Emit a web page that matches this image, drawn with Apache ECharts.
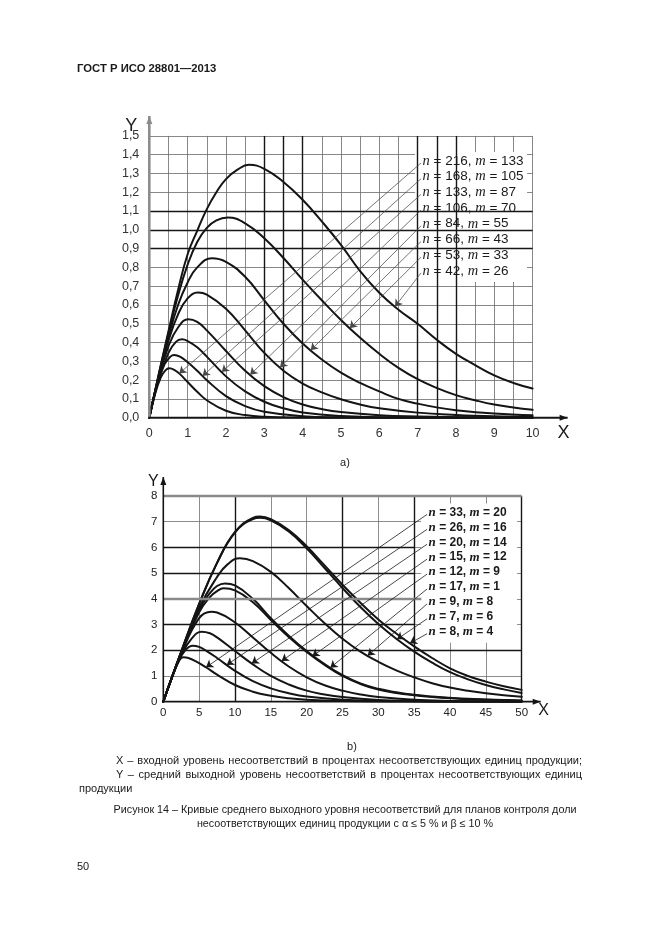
<!DOCTYPE html>
<html><head><meta charset="utf-8"><title>ГОСТ Р ИСО 28801—2013, Рисунок 14</title>
<script src="https://cdn.jsdelivr.net/npm/echarts@6/dist/echarts.min.js"></script>
<style>
html,body{margin:0;padding:0;background:#fff;}
#wrap{position:relative;width:661px;height:936px;overflow:hidden;font-family:'Liberation Sans',Arial,sans-serif;color:#1a1a1a;}
#c{position:absolute;left:0;top:0;width:661px;height:936px;}
.t{position:absolute;white-space:nowrap;font-size:11px;line-height:14px;height:14px;}
.cap{font-size:10.75px;}
</style></head><body><div id="wrap"><div id="c"></div>
<div class="t" style="left:77px;top:61px;font-weight:bold;font-size:11.3px;">ГОСТ Р ИСО 28801—2013</div>
<div class="t" style="left:295px;width:100px;text-align:center;top:455px;">a)</div>
<div class="t" style="left:302px;width:100px;text-align:center;top:739px;">b)</div>
<div class="t" id="l1" style="left:116px;top:753px;">X – входной уровень несоответствий в процентах несоответствующих единиц продукции;</div>
<div class="t" id="l2" style="left:116px;top:767px;">Y – средний выходной уровень несоответствий в процентах несоответствующих единиц</div>
<div class="t" style="left:79px;top:781px;">продукции</div>
<div class="t cap" style="left:0;width:690px;text-align:center;top:802px;">Рисунок 14 – Кривые среднего выходного уровня несоответствий для планов контроля доли</div>
<div class="t cap" style="left:0;width:690px;text-align:center;top:816px;">несоответствующих единиц продукции с α ≤ 5 % и β ≤ 10 %</div>
<div class="t" style="left:77px;top:859px;">50</div>
</div>
<script>
// ---------- Chart a) data ----------
const aPlanN = [216, 168, 133, 106, 84, 66, 53, 42];
const aPlanM = [133, 105, 87, 70, 55, 43, 33, 26];
const aC216 = [[0,0],[0.15,0.125],[0.3,0.215],[0.42,0.252],[0.52,0.263],[0.65,0.255],[0.8,0.232],[1,0.19],[1.25,0.138],[1.5,0.093],[2,0.037],[2.5,0.014],[3,0.005],[4,0.001],[5,0],[10,0]];
const aC168 = [[0,0],[0.2,0.175],[0.4,0.285],[0.55,0.325],[0.65,0.334],[0.8,0.325],[1,0.295],[1.25,0.25],[1.5,0.2],[2,0.115],[2.5,0.062],[3,0.032],[4,0.008],[5,0.002],[6,0],[10,0]];
const aC133 = [[0,0],[0.25,0.205],[0.5,0.345],[0.7,0.405],[0.85,0.417],[1,0.408],[1.25,0.375],[1.5,0.325],[2,0.22],[2.5,0.14],[3,0.085],[3.5,0.05],[4,0.028],[5,0.009],[6,0.003],[7,0.001],[8,0],[10,0]];
const aC106 = [[0,0],[0.25,0.215],[0.5,0.38],[0.75,0.48],[1.02,0.524],[1.25,0.51],[1.5,0.465],[2,0.355],[2.5,0.25],[3,0.168],[3.5,0.11],[4,0.07],[4.5,0.046],[5,0.03],[6,0.013],[7,0.006],[8,0.003],[9,0.002],[10,0.001]];
const aC84 = [[0,0],[0.25,0.222],[0.5,0.41],[0.75,0.55],[1,0.635],[1.27,0.666],[1.5,0.655],[2,0.58],[2.5,0.465],[3,0.345],[3.5,0.25],[4,0.182],[4.5,0.135],[5,0.098],[5.5,0.07],[6,0.05],[7,0.027],[8,0.015],[9,0.008],[10,0.005]];
const aC66 = [[0,0],[0.25,0.228],[0.5,0.43],[0.75,0.6],[1,0.72],[1.25,0.8],[1.63,0.849],[2,0.83],[2.5,0.75],[3,0.625],[3.5,0.5],[4,0.395],[4.5,0.31],[5,0.24],[5.5,0.185],[6,0.14],[6.5,0.1],[7,0.075],[7.5,0.055],[8,0.04],[9,0.022],[10,0.013]];
const aC53 = [[0,0],[0.25,0.232],[0.5,0.45],[0.75,0.65],[1,0.815],[1.25,0.935],[1.5,1.01],[1.75,1.05],[2.05,1.065],[2.5,1.035],[3,0.955],[3.5,0.85],[4,0.735],[4.5,0.625],[5,0.52],[5.5,0.425],[6,0.34],[6.5,0.265],[7,0.205],[7.5,0.158],[8,0.12],[8.5,0.093],[9,0.07],[9.5,0.054],[10,0.042]];
const aC42 = [[0,0],[0.25,0.235],[0.5,0.46],[0.75,0.68],[1,0.87],[1.25,0.995],[1.5,1.11],[1.75,1.2],[2,1.27],[2.3,1.32],[2.6,1.346],[3,1.325],[3.5,1.255],[4,1.16],[4.5,1.045],[5,0.92],[5.5,0.78],[6,0.665],[6.5,0.575],[7,0.5],[7.5,0.415],[8,0.34],[8.5,0.28],[9,0.225],[9.5,0.185],[10,0.155]];
const aCurves = [aC216, aC168, aC133, aC106, aC84, aC66, aC53, aC42];
const aArrowX = [0.78, 1.39, 1.89, 2.63, 3.41, 4.21, 5.23, 6.41];

// ---------- Chart b) data ----------
const bPlanN = [33, 26, 20, 15, 12, 17, 9, 7, 8];
const bPlanM = [20, 16, 14, 12, 9, 1, 8, 6, 4];
const bC33 = [[0,0],[1,0.78],[2,1.48],[2.8,1.725],[3.5,1.7],[4.5,1.58],[6,1.33],[7.5,1.05],[10,0.65],[12.5,0.39],[15,0.23],[17.5,0.13],[20,0.075],[25,0.025],[30,0.008],[35,0.003],[40,0.001],[50,0]];
const bC26 = [[0,0],[1,0.78],[2,1.5],[3,1.98],[4.1,2.18],[5,2.13],[6,1.98],[7.5,1.7],[10,1.2],[12.5,0.8],[15,0.52],[17.5,0.33],[20,0.2],[25,0.075],[30,0.028],[35,0.01],[40,0.004],[50,0]];
const bC20 = [[0,0],[1,0.78],[2.5,1.8],[4,2.47],[5.35,2.72],[6.5,2.66],[7.5,2.5],[10,1.97],[12.5,1.45],[15,1.0],[17.5,0.67],[20,0.43],[22.5,0.28],[25,0.18],[30,0.07],[35,0.028],[40,0.01],[45,0.004],[50,0.001]];
const bC15 = [[0,0],[2.5,1.85],[5,3.25],[6.7,3.5],[7.5,3.47],[10,3.08],[12.5,2.5],[15,1.9],[17.5,1.37],[20,0.95],[22.5,0.64],[25,0.43],[27.5,0.28],[30,0.18],[35,0.075],[40,0.03],[45,0.012],[50,0.005]];
const bC12 = [[0,0],[2.5,1.9],[5,3.48],[6.5,4.07],[7.5,4.3],[8.4,4.41],[10,4.33],[12.5,3.87],[15,3.18],[17.5,2.52],[20,1.93],[22.5,1.43],[25,1.0],[27.5,0.69],[30,0.47],[32.5,0.34],[35,0.25],[37.5,0.18],[40,0.13],[42.5,0.1],[45,0.075],[47.5,0.055],[50,0.04]];
const bC17 = [[0,0],[2.5,1.92],[5,3.58],[6.5,4.22],[7.5,4.5],[8.6,4.6],[10,4.52],[12.5,4.0],[15,3.25],[17.5,2.57],[20,1.97],[22.5,1.46],[25,1.03],[27.5,0.71],[30,0.5],[32.5,0.37],[35,0.27],[37.5,0.2],[40,0.15],[42.5,0.11],[45,0.085],[47.5,0.065],[50,0.05]];
const bC9 = [[0,0],[2.5,1.93],[5,3.65],[7.5,4.85],[9,5.35],[10.7,5.58],[12.5,5.47],[15,5.05],[17.5,4.42],[20,3.72],[22.5,3.05],[25,2.45],[27.5,1.95],[30,1.55],[32.5,1.22],[35,0.95],[37.5,0.72],[40,0.55],[42.5,0.43],[45,0.33],[47.5,0.25],[50,0.19]];
const bC7 = [[0,0],[2.5,1.95],[5,3.8],[7.5,5.4],[10,6.58],[12.5,7.1],[13.5,7.15],[15,7.05],[17.5,6.62],[20,5.97],[22.5,5.2],[25,4.42],[27.5,3.68],[30,3.02],[32.5,2.45],[35,1.95],[37.5,1.52],[40,1.15],[42.5,0.87],[45,0.65],[47.5,0.48],[50,0.34]];
const bC8 = [[0,0],[2.5,1.95],[5,3.8],[7.5,5.4],[10,6.6],[12.5,7.15],[13.5,7.2],[15,7.1],[17.5,6.68],[20,6.05],[22.5,5.3],[25,4.55],[27.5,3.85],[30,3.2],[32.5,2.65],[35,2.15],[37.5,1.7],[40,1.3],[42.5,1.0],[45,0.78],[47.5,0.6],[50,0.46]];
const bCurves = [bC33, bC26, bC20, bC15, bC12, bC17, bC9, bC7, bC8];
const bArrowX = [5.96, 8.85, 12.33, 16.5, 20.8, 23.3, 28.5, 32.6, 34.4];

// ---------- layout / annotation settings ----------
const FONT = "'Liberation Sans', Arial, sans-serif";
const aLegend = { x: 7.09, y0: 1.356, dy: 0.0836 };
const bLegend = { x: 36.8, y0: 7.284, dy: 0.58 };

function yAt(curve, x) {
  for (let k = 0; k < curve.length - 1; k++) {
    const [x0, y0] = curve[k], [x1, y1] = curve[k + 1];
    if (x >= x0 && x <= x1) return y0 + (y1 - y0) * (x - x0) / (x1 - x0);
  }
  return curve[curve.length - 1][1];
}

function curveSeries(g, data) {
  return { type: 'line', xAxisIndex: g, yAxisIndex: g, data: data, showSymbol: false, symbol: 'none',
    smooth: 0.45, silent: true, z: 3, emphasis: { disabled: true },
    lineStyle: { color: '#141414', width: 2, cap: 'round', join: 'round' } };
}
function markSeries(g, lines, color, width, z, arrow) {
  return { type: 'line', xAxisIndex: g, yAxisIndex: g, data: [], showSymbol: false, symbol: 'none', silent: true, z: z,
    lineStyle: { width: 0 },
    markLine: { silent: true, animation: false, symbol: arrow ? ['none', 'arrow'] : ['none', 'none'], symbolSize: arrow ? 7 : 0,
      label: { show: false }, emphasis: { disabled: true },
      lineStyle: { color: color, width: width, type: 'solid' },
      data: lines.map(l => [{ coord: l[0] }, { coord: l[1] }]) } };
}

// thick reference lines of the original grid
const aThick = [3, 3.5, 4, 7, 7.5, 8].map(v => [[v, 0], [v, 1.5]])
  .concat([0.9, 1.0, 1.1].map(v => [[0, v], [10, v]]));
const bThickDark = [10, 25, 35, 50].map(v => [[v, 0], [v, 8]])
  .concat([[[0, 2], [50, 2]], [[0, 3], [35, 3]], [[0, 5], [35, 5]], [[0, 6], [35, 6]]]);
const bThickGray = [[[0, 8], [50, 8]], [[0, 4], [36, 4]]];

const aLeaders = aCurves.map((c, i) => [[aLegend.x, aLegend.y0 - aLegend.dy * i], [aArrowX[i], yAt(c, aArrowX[i])]]);
const bLeaders = bCurves.map((c, i) => [[bLegend.x, bLegend.y0 - bLegend.dy * i], [bArrowX[i], yAt(c, bArrowX[i])]]);

const splitA = { show: true, lineStyle: { color: '#6a6a6a', width: 0.8 } };
const splitB = { show: true, lineStyle: { color: '#707070', width: 0.8 } };

const chart = echarts.init(document.getElementById('c'), null, { renderer: 'canvas', width: 661, height: 936 });
const option = {
  animation: false,
  grid: [
    { left: 149.3, top: 135.9, width: 383.3, height: 281.8, outerBoundsMode: 'none', containLabel: false },
    { left: 163.3, top: 496, width: 358.4, height: 205.7, outerBoundsMode: 'none', containLabel: false }
  ],
  xAxis: [
    { gridIndex: 0, type: 'value', min: 0, max: 10, interval: 0.5, axisLine: { show: false }, axisTick: { show: false }, splitLine: splitA,
      axisLabel: { margin: 9, fontSize: 12.5, color: '#333', fontFamily: FONT, interval: 0,
        formatter: v => (Math.abs(v - Math.round(v)) < 1e-6 ? String(Math.round(v)) : '') } },
    { gridIndex: 1, type: 'value', min: 0, max: 50, interval: 5, axisLine: { show: false }, axisTick: { show: false }, splitLine: splitB,
      axisLabel: { margin: 5, fontSize: 11.5, color: '#222', fontFamily: FONT } }
  ],
  yAxis: [
    { gridIndex: 0, type: 'value', min: 0, max: 1.5, interval: 0.1, axisLine: { show: false }, axisTick: { show: false }, splitLine: splitA,
      axisLabel: { margin: 10, fontSize: 12.5, color: '#333', fontFamily: FONT, formatter: v => v.toFixed(1).replace('.', ',') } },
    { gridIndex: 1, type: 'value', min: 0, max: 8, interval: 1, axisLine: { show: false }, axisTick: { show: false }, splitLine: splitB,
      axisLabel: { margin: 6, fontSize: 11.5, color: '#222', fontFamily: FONT } }
  ],
  series: [
    markSeries(0, aThick, '#161616', 1.4, 1, false),
    markSeries(1, bThickDark, '#161616', 1.4, 1, false),
    markSeries(1, bThickGray, '#8a8a8a', 2.4, 1, false),
    markSeries(0, aLeaders, '#4a4a4a', 0.75, 3, true),
    markSeries(1, bLeaders, '#1a1a1a', 0.8, 3, true)
  ].concat(aCurves.map(c => curveSeries(0, c))).concat(bCurves.map(c => curveSeries(1, c)))
};
chart.setOption(option);

// ---------- axes with arrows, axis names, legend labels ----------
const P = (g, pt) => chart.convertToPixel({ gridIndex: g }, pt);
const gr = [];
function axisArrow(x1, y1, x2, y2, color, width) {
  gr.push({ type: 'line', z: 6, shape: { x1, y1, x2, y2 }, style: { stroke: color, lineWidth: width } });
  const dx = x2 - x1, dy = y2 - y1, L = Math.hypot(dx, dy), ux = dx / L, uy = dy / L;
  const len = 8, w = 3;
  gr.push({ type: 'polygon', z: 6, shape: { points: [[x2, y2], [x2 - ux * len - uy * w, y2 - uy * len + ux * w], [x2 - ux * len + uy * w, y2 - uy * len - ux * w]] },
    style: { fill: color } });
}
function txt(x, y, text, size) {
  gr.push({ type: 'text', z: 7, x: x, y: y,
    style: { text: text, fontSize: size, fontFamily: FONT, fill: '#1a1a1a', align: 'center', verticalAlign: 'middle' } });
}
// chart a axes
const a00 = P(0, [0, 0]), aTop = P(0, [0, 1.5]), aRight = P(0, [10, 0]);
axisArrow(a00[0], a00[1], a00[0], aTop[1] - 20, '#8c8c8c', 2.6);
axisArrow(a00[0] - 1, a00[1], aRight[0] + 35, a00[1], '#141414', 2);
txt(a00[0] - 18, aTop[1] - 10, 'Y', 18);
txt(aRight[0] + 31, a00[1] + 15, 'X', 18);
// chart b axes
const b00 = P(1, [0, 0]), bTop = P(1, [0, 8]), bRight = P(1, [50, 0]);
axisArrow(b00[0], b00[1], b00[0], bTop[1] - 19, '#141414', 1.6);
axisArrow(b00[0] - 1, b00[1], bRight[0] + 19, b00[1], '#141414', 1.8);
txt(b00[0] - 10, bTop[1] - 14, 'Y', 16);
txt(bRight[0] + 22, b00[1] + 9, 'X', 16);

// legend labels with white boxes
function legend(g, L, ns, ms, size, bold, boxW) {
  const first = P(g, [L.x, L.y0]);
  const last = P(g, [L.x, L.y0 - L.dy * (ns.length - 1)]);
  gr.push({ type: 'rect', z: 2, shape: { x: first[0] - 6, y: first[1] - 11, width: boxW, height: last[1] - first[1] + 20 },
    style: { fill: '#ffffff' } });
  ns.forEach((n, i) => {
    const p = P(g, [L.x, L.y0 - L.dy * i]);
    gr.push({ type: 'text', z: 7, x: p[0] + 1.5, y: p[1] - 2,
      style: { text: '{i|n} = ' + n + ', {i|m} = ' + ms[i], fontSize: size, fontFamily: FONT, fontWeight: bold ? 'bold' : 'normal',
        fill: '#1a1a1a', align: 'left', verticalAlign: 'middle',
        rich: { i: { fontStyle: 'italic', fontFamily: "'Liberation Serif', 'DejaVu Serif', serif", fontSize: size + 1,
          fontWeight: bold ? 'bold' : 'normal', fill: '#1a1a1a' } } } });
  });
}
legend(0, aLegend, aPlanN, aPlanM, 13.5, false, 112);
legend(1, bLegend, bPlanN, bPlanM, 12, true, 96);

chart.setOption({ graphic: { elements: gr } });

// stretch the two caption lines to the printed line width
const target = 466;
['l1', 'l2'].forEach(id => {
  const el = document.getElementById(id);
  const w = el.getBoundingClientRect().width;
  const spaces = (el.textContent.match(/ /g) || []).length;
  if (w < target && spaces) el.style.wordSpacing = ((target - w) / spaces) + 'px';
});
</script></body></html>
